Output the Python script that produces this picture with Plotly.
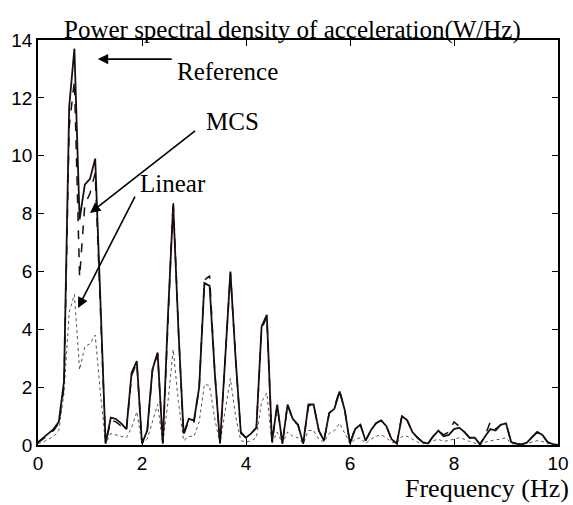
import plotly.graph_objects as go

freq = [round(0.1 * k, 1) for k in range(101)]

reference = [0.1, 0.25, 0.4, 0.55, 0.8, 2.2, 11.7, 13.7, 7.8, 9.0,
             9.2, 9.9, 5.0, 0.05, 0.95, 0.9, 0.75, 0.55, 2.5, 2.9,
             0.05, 0.5, 2.6, 3.2, 0.05, 4.5, 8.3, 4.0, 0.4, 0.9,
             0.85, 2.0, 5.6, 5.5, 2.5, 0.05, 3.0, 6.0, 3.0, 0.45,
             0.25, 0.4, 0.6, 4.1, 4.5, 0.1, 1.4, 0.05, 1.4, 0.9,
             0.7, 0.05, 1.4, 1.4, 0.5, 0.15, 1.1, 1.25, 1.85, 1.2,
             0.05, 0.55, 0.7, 0.15, 0.5, 0.75, 0.85, 0.65, 0.2, 0.05,
             1.0, 0.85, 0.45, 0.25, 0.1, 0.05, 0.3, 0.5, 0.3, 0.35,
             0.55, 0.6, 0.45, 0.25, 0.25, 0.02, 0.3, 0.55, 0.5, 0.7,
             0.75, 0.1, 0.05, 0.02, 0.08, 0.25, 0.45, 0.35, 0.1, 0.03,
             0.0]

mcs = [0.08, 0.2, 0.35, 0.5, 0.75, 2.0, 11.0, 12.6, 5.8, 8.3,
       8.7, 9.4, 4.8, 0.05, 0.85, 0.8, 0.65, 0.5, 2.4, 2.85,
       0.05, 0.45, 2.55, 3.15, 0.05, 4.5, 8.45, 4.0, 0.35, 0.85,
       0.8, 2.0, 5.7, 5.85, 2.5, 0.05, 3.0, 5.95, 3.0, 0.4,
       0.25, 0.4, 0.6, 4.0, 4.45, 0.1, 1.35, 0.05, 1.4, 0.85,
       0.7, 0.05, 1.35, 1.4, 0.5, 0.15, 1.1, 1.3, 1.9, 1.2,
       0.05, 0.6, 0.7, 0.15, 0.5, 0.75, 0.85, 0.65, 0.2, 0.05,
       1.05, 0.85, 0.45, 0.25, 0.1, 0.05, 0.3, 0.5, 0.35, 0.45,
       0.8, 0.65, 0.45, 0.25, 0.25, 0.02, 0.35, 0.8, 0.55, 0.7,
       0.75, 0.1, 0.05, 0.02, 0.08, 0.25, 0.45, 0.35, 0.1, 0.03,
       0.0]

linear = [0.05, 0.1, 0.2, 0.3, 0.5, 1.8, 4.6, 5.2, 2.6, 3.4,
          3.5, 3.8, 1.8, 0.05, 0.4, 0.35, 0.3, 0.25, 0.6, 1.15,
          0.05, 0.2, 0.8, 1.4, 0.05, 1.5, 3.3, 1.5, 0.15, 0.3,
          0.3, 0.8, 2.1, 2.05, 0.9, 0.05, 1.2, 2.3, 1.0, 0.15,
          0.1, 0.15, 0.25, 1.5, 1.8, 0.05, 0.45, 0.05, 0.45, 0.3,
          0.25, 0.05, 0.5, 0.5, 0.2, 0.1, 0.4, 0.5, 0.75, 0.4,
          0.05, 0.2, 0.25, 0.05, 0.2, 0.3, 0.35, 0.25, 0.1, 0.05,
          0.3, 0.3, 0.2, 0.1, 0.05, 0.05, 0.15, 0.2, 0.12, 0.15,
          0.2, 0.25, 0.2, 0.12, 0.08, 0.02, 0.1, 0.15, 0.18, 0.2,
          0.25, 0.05, 0.02, 0.02, 0.05, 0.1, 0.15, 0.12, 0.05, 0.02,
          0.0]

x_ticks = [0, 2, 4, 6, 8, 10]
y_ticks = [0, 2, 4, 6, 8, 10, 12, 14]

fig = go.Figure()
fig.add_trace(go.Scatter(x=freq, y=linear, mode="lines", name="Linear",
                         line=dict(color="#555555", width=1, dash="dot")))
fig.add_trace(go.Scatter(x=freq, y=mcs, mode="lines", name="MCS",
                         line=dict(color="#1a0d0d", width=1.5, dash="dash")))
fig.add_trace(go.Scatter(x=freq, y=reference, mode="lines", name="Reference",
                         line=dict(color="#1a0d0d", width=1.8)))

serif = "Liberation Serif, Times New Roman, serif"
sans = "Liberation Sans, Arial, sans-serif"

arrows = [
    dict(text="Reference", tx=2.63, ty=12.9, hx=1.15, hy=13.34, tailx=2.6, taily=13.34),
    dict(text="MCS", tx=3.2, ty=11.2, hx=1.0, hy=8.02, tailx=3.05, taily=10.9),
    dict(text="Linear", tx=1.92, ty=9.05, hx=0.77, hy=4.74, tailx=1.88, taily=8.64),
]
for a in arrows:
    fig.add_annotation(x=a["hx"], y=a["hy"], ax=a["tailx"], ay=a["taily"],
                       xref="x", yref="y", axref="x", ayref="y", text="",
                       showarrow=True, arrowhead=2, arrowsize=1.3, arrowwidth=1.6,
                       arrowcolor="black")
    fig.add_annotation(x=a["tx"], y=a["ty"], xref="x", yref="y", text=a["text"],
                       showarrow=False, xanchor="left", yanchor="middle",
                       font=dict(family=serif, size=25, color="black"))

fig.add_annotation(x=0.49, y=1.0, xref="paper", yref="paper", yshift=-6,
                   text="Power spectral density of acceleration(W/Hz)",
                   showarrow=False, xanchor="center", yanchor="bottom",
                   font=dict(family=serif, size=25, color="black"))
fig.add_annotation(x=1.025, y=0, xref="paper", yref="paper", yshift=-43,
                   text="Frequency (Hz)", showarrow=False,
                   xanchor="right", yanchor="middle",
                   font=dict(family=serif, size=26, color="black"))

fig.update_layout(
    width=573, height=505,
    margin=dict(l=38, r=15, t=40, b=60),
    paper_bgcolor="white", plot_bgcolor="white",
    showlegend=False,
    font=dict(family=sans, size=19, color="black"),
)
fig.update_xaxes(range=[0, 10], tickvals=x_ticks, ticks="inside", ticklen=6,
                 showline=True, linecolor="black", linewidth=1.5, mirror="ticks",
                 showgrid=False, zeroline=False, tickcolor="black", automargin=False,
                 tickfont=dict(family=sans, size=19, color="black"))
fig.update_yaxes(range=[0, 14], tickvals=y_ticks, ticks="inside", ticklen=6,
                 showline=True, linecolor="black", linewidth=1.5, mirror="ticks",
                 showgrid=False, zeroline=False, tickcolor="black", automargin=False,
                 tickfont=dict(family=sans, size=19, color="black"))

fig.write_html("out.html",
               config={"displayModeBar": False},
               post_script="document.body.style.margin='0';"
                           "document.body.style.overflow='hidden';")
